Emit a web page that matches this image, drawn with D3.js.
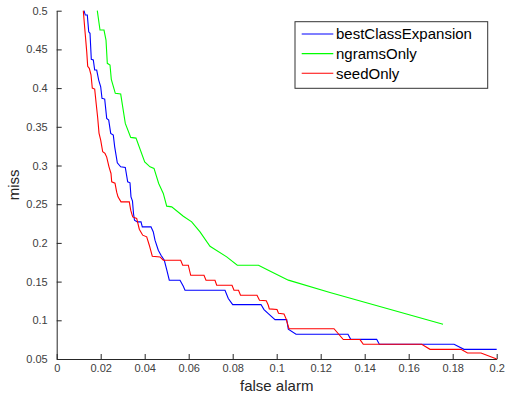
<!DOCTYPE html>
<html>
<head>
<meta charset="utf-8">
<script src="https://cdn.jsdelivr.net/npm/d3@7"></script>
<style>
  body { margin: 0; background: #fff; }
  svg { font-family: "Liberation Sans", Arial, Helvetica, sans-serif; }
</style>
</head>
<body>
<div id="chart"></div>
<script>
// series names, in legend order
const seriesNames = ["bestClassExpansion", "ngramsOnly", "seedOnly"];
const seriesColors = ["#0000ff", "#00ff00", "#ff0000"];

// [false alarm, miss] pairs
const bestClassExpansion = [
  [0.01241,0.5],[0.0130,0.4944],[0.01391,0.4944],[0.01455,0.4728],[0.01514,0.4708],
  [0.01573,0.4372],[0.01664,0.4363],[0.01727,0.4233],[0.01818,0.4233],[0.01909,0.4104],
  [0.0200,0.4017],[0.02059,0.3867],[0.02182,0.3858],[0.02273,0.3609],[0.02364,0.3587],
  [0.02455,0.3415],[0.02573,0.3393],[0.02636,0.3241],[0.02755,0.3034],[0.02909,0.2983],
  [0.03118,0.2975],[0.03227,0.2789],[0.03332,0.2776],[0.03377,0.2595],[0.03445,0.2539],
  [0.03491,0.2380],[0.03536,0.2294],[0.03664,0.2272],[0.03832,0.2272],[0.03891,0.2207],
  [0.04286,0.2207],[0.04391,0.2142],[0.04468,0.2035],[0.04618,0.1906],[0.04741,0.1841],
  [0.04891,0.1776],[0.0500,0.1656],[0.05118,0.1518],[0.05605,0.1518],[0.05755,0.1440],
  [0.05832,0.1388],[0.0765,0.1388],[0.0780,0.1281],[0.0800,0.1203],[0.09286,0.1203],
  [0.09423,0.1139],[0.09618,0.1087],[0.09923,0.1009],[0.10455,0.1009],[0.10527,0.0884],
  [0.10877,0.0819],[0.1324,0.0819],[0.13364,0.0754],[0.14545,0.0754],[0.14664,0.0690],
  [0.1806,0.0690],[0.18514,0.0625],[0.2,0.0625]
];

const ngramsOnly = [
  [0.01845,0.5],[0.01968,0.4750],[0.0215,0.4750],[0.02241,0.4621],[0.0230,0.4320],
  [0.02423,0.4298],[0.02482,0.4113],[0.02664,0.3932],[0.02909,0.3923],[0.03118,0.3544],
  [0.03364,0.3363],[0.03605,0.3354],[0.0400,0.3047],[0.04241,0.2983],[0.04423,0.2962],
  [0.04636,0.2768],[0.04845,0.2639],[0.0500,0.2475],[0.05227,0.2466],[0.05755,0.2345],
  [0.06136,0.2272],[0.06514,0.2142],[0.06968,0.1957],[0.07727,0.1819],[0.08209,0.1712],
  [0.09173,0.1712],[0.09618,0.1648],[0.1053,0.1519],[0.1242,0.1359],[0.1756,0.0949]
];

const seedOnly = [
  [0.01209,0.5],[0.01286,0.4734],[0.01364,0.4475],[0.01409,0.4281],[0.01482,0.4255],
  [0.01559,0.4172],[0.01618,0.4000],[0.01727,0.3987],[0.0180,0.3785],[0.01864,0.3613],
  [0.01923,0.3419],[0.0200,0.3328],[0.02091,0.3177],[0.02195,0.3156],[0.02273,0.3108],
  [0.02377,0.2983],[0.02468,0.2897],[0.0250,0.2789],[0.0265,0.2772],[0.02727,0.2656],
  [0.02786,0.2595],[0.02923,0.2530],[0.033,0.2530],[0.03364,0.2423],[0.03455,0.2336],
  [0.03636,0.2316],[0.03755,0.2177],[0.03909,0.2100],[0.04091,0.2078],[0.04209,0.1970],
  [0.04345,0.1828],[0.04695,0.1819],[0.04845,0.1776],[0.05636,0.1776],[0.05727,0.1712],
  [0.05982,0.1712],[0.06091,0.1582],[0.06695,0.1582],[0.06786,0.1518],[0.07195,0.1518],
  [0.07273,0.1453],[0.07968,0.1453],[0.08059,0.1388],[0.08264,0.1388],[0.08355,0.1324],
  [0.09105,0.1324],[0.09218,0.1259],[0.09527,0.1253],[0.09618,0.1194],[0.09664,0.1147],
  [0.10014,0.1139],[0.10082,0.1091],[0.10332,0.1082],[0.10423,0.1022],[0.10559,0.0891],
  [0.12605,0.0891],[0.13027,0.0751],[0.13786,0.0751],[0.13936,0.0690],[0.16591,0.0690],
  [0.16968,0.0625],[0.18377,0.0625],[0.18673,0.0578],[0.19286,0.0578],[0.2,0.0500]
];

const xTicks = [0, 0.02, 0.04, 0.06, 0.08, 0.1, 0.12, 0.14, 0.16, 0.18, 0.2];
const xTickLabels = ["0", "0.02", "0.04", "0.06", "0.08", "0.1", "0.12", "0.14", "0.16", "0.18", "0.2"];
const yTicks = [0.05, 0.1, 0.15, 0.2, 0.25, 0.3, 0.35, 0.4, 0.45, 0.5];
const yTickLabels = ["0.05", "0.1", "0.15", "0.2", "0.25", "0.3", "0.35", "0.4", "0.45", "0.5"];

const width = 505, height = 394;
const margin = {top: 10.7, right: 8.3, bottom: 35, left: 56.7};
const w = width - margin.left - margin.right;
const h = height - margin.top - margin.bottom;

const svg = d3.select("#chart").append("svg")
  .attr("width", width)
  .attr("height", height);

const g = svg.append("g")
  .attr("transform", "translate(" + margin.left + "," + margin.top + ")");

const xScale = d3.scaleLinear().domain([0, 0.2]).range([0, w]);
const yScale = d3.scaleLinear().domain([0.05, 0.5]).range([h, 0]);

// axes, ticks pointing inward like matlab
const xAxis = g.append("g")
  .attr("transform", "translate(0," + h + ")")
  .call(d3.axisBottom(xScale)
    .tickValues(xTicks)
    .tickFormat((d, i) => xTickLabels[i])
    .tickSizeInner(-5)
    .tickSizeOuter(0)
    .tickPadding(5));

const yAxis = g.append("g")
  .call(d3.axisLeft(yScale)
    .tickValues(yTicks)
    .tickFormat((d, i) => yTickLabels[i])
    .tickSizeInner(-5)
    .tickSizeOuter(0)
    .tickPadding(9));

[xAxis, yAxis].forEach(a => {
  a.select(".domain").attr("stroke", "#262626").attr("stroke-width", 1);
  a.selectAll(".tick line").attr("stroke", "#262626");
  a.selectAll(".tick text").attr("fill", "#404040").style("font-size", "11px");
});

// axis labels
g.append("text")
  .attr("x", w / 2)
  .attr("y", h + 32)
  .attr("text-anchor", "middle")
  .attr("fill", "#262626")
  .style("font-size", "15px")
  .text("false alarm");

g.append("text")
  .attr("transform", "translate(" + (-38) + "," + (h / 2) + ") rotate(-90)")
  .attr("text-anchor", "middle")
  .attr("fill", "#262626")
  .style("font-size", "15px")
  .text("miss");

// curves
const line = d3.line()
  .x(d => xScale(d[0]))
  .y(d => yScale(d[1]));

const allSeries = [bestClassExpansion, ngramsOnly, seedOnly];

g.selectAll(".curve")
  .data(allSeries)
  .enter()
  .append("path")
  .attr("class", "curve")
  .attr("d", d => line(d))
  .attr("fill", "none")
  .attr("stroke", (d, i) => seriesColors[i])
  .attr("stroke-width", 1.1);

// legend
const legend = svg.append("g").attr("transform", "translate(295,21.7)");

legend.append("rect")
  .attr("width", 192.7)
  .attr("height", 66.6)
  .attr("fill", "#fff")
  .attr("stroke", "#333")
  .attr("stroke-width", 1);

const rows = legend.selectAll(".row")
  .data(seriesNames)
  .enter()
  .append("g")
  .attr("class", "row")
  .attr("transform", (d, i) => "translate(0," + (12.3 + i * 19.6) + ")");

rows.append("line")
  .attr("x1", 6.7).attr("x2", 38.3)
  .attr("stroke", (d, i) => seriesColors[i])
  .attr("stroke-width", 1.1);

rows.append("text")
  .attr("x", 41)
  .attr("dy", "0.36em")
  .attr("fill", "#000")
  .style("font-size", "15px")
  .text(d => d);
</script>
</body>
</html>
